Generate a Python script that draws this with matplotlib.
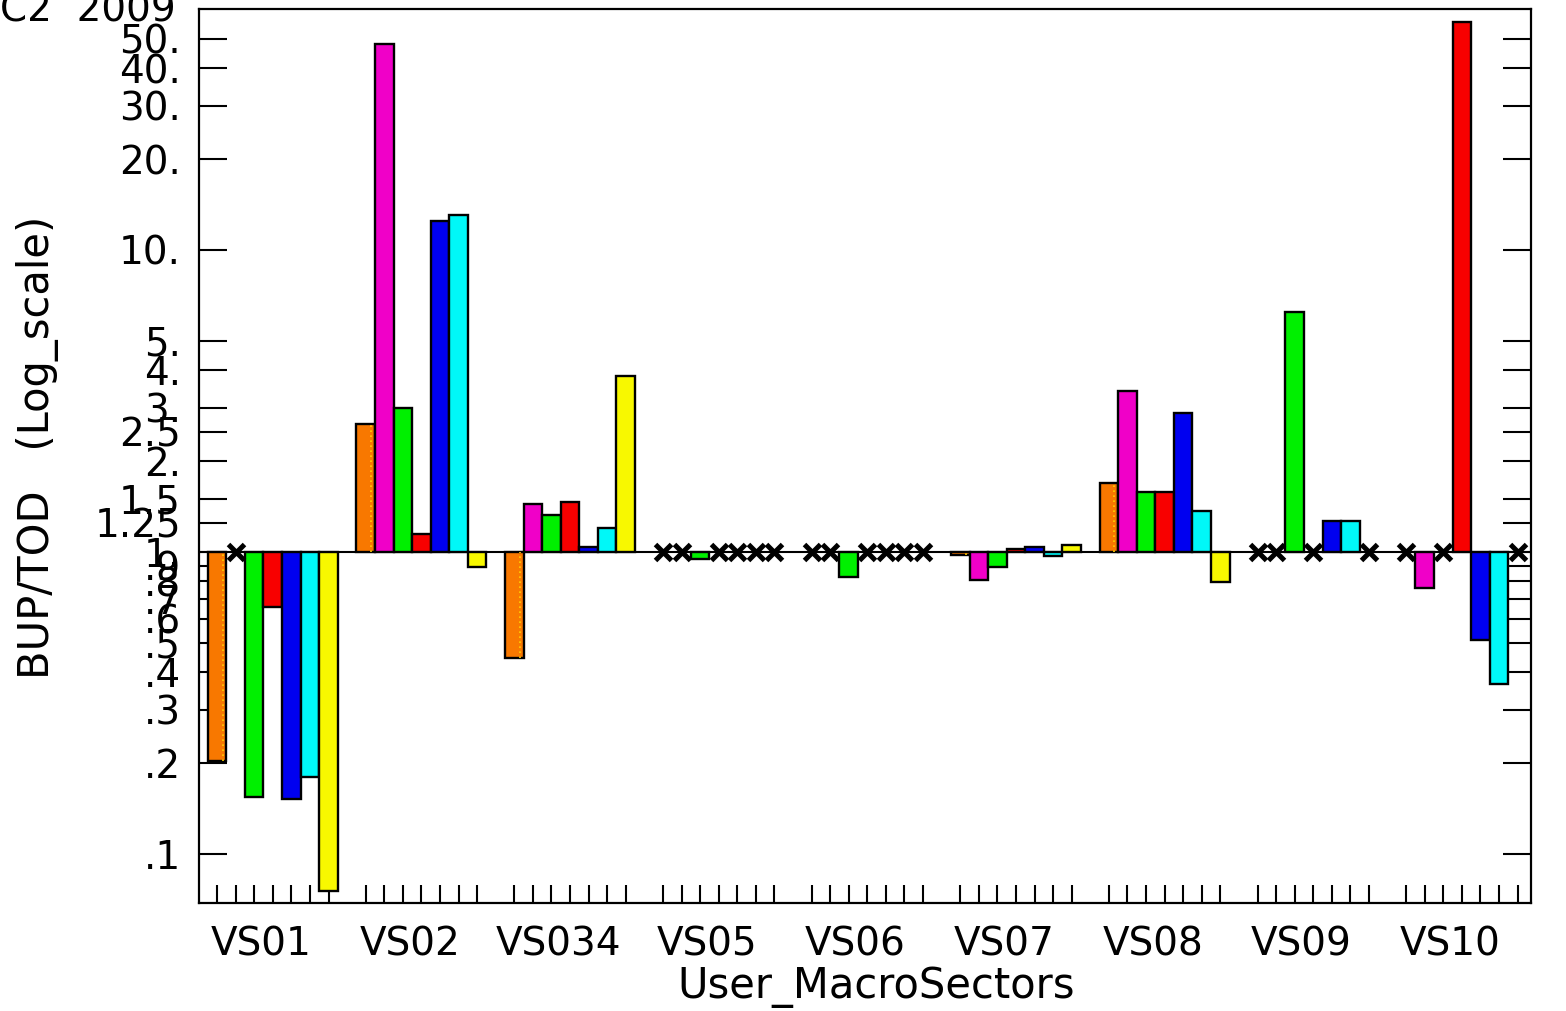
import numpy as np
import matplotlib.pyplot as plt
from matplotlib.ticker import NullLocator, FixedLocator, FixedFormatter

nan = np.nan

sectors = ['VS01', 'VS02', 'VS034', 'VS05', 'VS06', 'VS07', 'VS08', 'VS09', 'VS10']

# BUP/TOD ratio per sector, one list per series (nan = no entry, drawn as x)
orange  = [0.203, 2.65, 0.446, nan, nan, 0.975, 1.69, nan, nan]
magenta = [nan, 48.1, 1.44, nan, nan, 0.808, 3.42, nan, 0.760]
green   = [0.154, 3.00, 1.33, 0.948, 0.826, 0.894, 1.58, 6.23, nan]
red     = [0.658, 1.147, 1.46, nan, nan, 1.023, 1.58, nan, 56.9]
blue    = [0.152, 12.5, 1.04, nan, nan, 1.042, 2.89, 1.266, 0.511]
cyan    = [0.180, 13.1, 1.20, nan, nan, 0.970, 1.37, 1.266, 0.366]
yellow  = [0.0755, 0.892, 3.83, nan, nan, 1.057, 0.793, nan, nan]

series = [orange, magenta, green, red, blue, cyan, yellow]
colors = ['#f87800', '#f000c8', '#00f000', '#f80000', '#0000f0', '#00f8f8', '#f8f800']

ytick_vals = [50, 40, 30, 20, 10, 5, 4, 3, 2.5, 2, 1.5, 1.25, 1,
              .9, .8, .7, .6, .5, .4, .3, .2, .1]
ytick_labels = ['50.', '40.', '30.', '20.', '10.', '5.', '4.', '3.', '2.5', '2.',
                '1.5', '1.25', '1.', '.9', '.8', '.7', '.6', '.5', '.4', '.3', '.2', '.1']

nslot = 8  # 7 bars + 1 empty slot per sector
fs = 28

fig = plt.figure(figsize=(15.66, 10.11), dpi=100)
ax = fig.add_axes([199 / 1566, 108 / 1011, 1332 / 1566, 894 / 1011])
ax.set_yscale('log')
ax.set_axisbelow(True)

base = 1.0
ax.axhline(base, color='black', lw=1.5, zorder=0.8)

slot_x = []
for k, (vals, col) in enumerate(zip(series, colors)):
    vals = np.array(vals, dtype=float)
    x = np.arange(len(sectors)) * nslot + k
    slot_x.extend(x)
    ok = ~np.isnan(vals)
    lo = np.minimum(vals[ok], base)
    hi = np.maximum(vals[ok], base)
    ax.bar(x[ok], hi - lo, bottom=lo, width=1.0, color=col,
           edgecolor='black', linewidth=1.7, zorder=1)
    if k == 0:
        # dotted fill line inside the orange bars
        ax.vlines(x[ok] + 0.3, lo, hi, colors='#ffd000', lw=1.2,
                  linestyles=(0, (1, 2)), zorder=1.5)
    ax.plot(x[~ok], np.full((~ok).sum(), base), 'x', color='black',
            ms=12, mew=3.6, zorder=3)

ax.set_xlim(-0.97, 70.72)
ax.set_ylim(0.0688, 62.8)

# y ticks on both sides, pointing inwards
ax.yaxis.set_major_locator(FixedLocator(ytick_vals))
ax.yaxis.set_major_formatter(FixedFormatter(ytick_labels))
ax.yaxis.set_minor_locator(NullLocator())
ax.tick_params(axis='y', which='major', direction='in', length=20, width=1.5,
               right=True, labelsize=fs, pad=13)

# bottom ticks under every bar slot, sector names between them
ax.set_xticks(sorted(slot_x))
ax.set_xticklabels([])
ax.set_xticks(np.arange(len(sectors)) * nslot + 2.37, minor=True)
ax.set_xticklabels(sectors, minor=True)
ax.tick_params(axis='x', which='major', direction='in', length=13, width=1.5,
               top=False)
ax.tick_params(axis='x', which='minor', length=0, labelsize=fs, pad=16)

for sp in ax.spines.values():
    sp.set_linewidth(1.6)

fig.text(876 / 1566, 1 - 998 / 1011, 'User_MacroSectors', fontsize=30,
         ha='center', va='baseline')
fig.text(38 / 1566, 1 - 447 / 1011, 'BUP/TOD   (Log_scale)', fontsize=30,
         rotation=90, ha='center', va='center')
fig.text(176 / 1566, 1 - 22 / 1011, 'C2  2009', fontsize=fs,
         ha='right', va='baseline')

fig.savefig('out.png', dpi=100)
